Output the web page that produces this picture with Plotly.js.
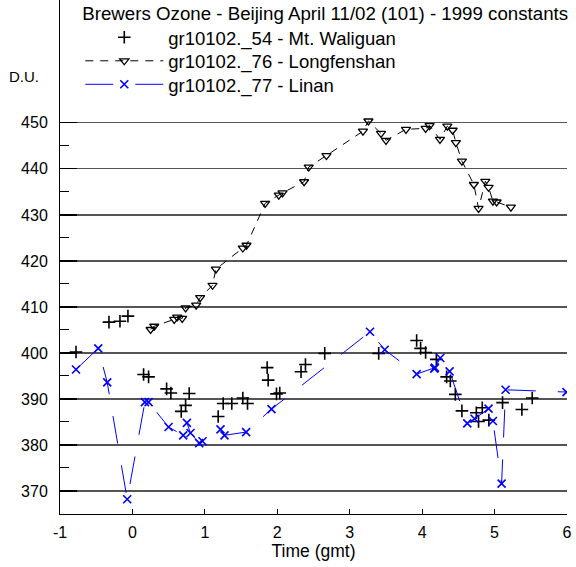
<!DOCTYPE html>
<html>
<head>
<meta charset="utf-8">
<script src="https://cdn.plot.ly/plotly-3.0.1.min.js"></script>
<style>html,body{margin:0;padding:0;background:#fff;}#chart{width:576px;height:567px;}</style>
</head>
<body>
<div id="chart"></div>
<script>
// Mt. Waliguan (gr10102._54)
const waliguanTime = [-0.779,-0.324,-0.172,-0.062,0.154,0.223,0.472,0.531,0.674,0.734,0.784,1.184,1.253,1.372,1.524,1.589,1.860,1.874,1.989,2.034,2.328,2.389,2.655,3.400,3.924,3.979,4.048,4.196,4.338,4.389,4.458,4.549,4.748,4.779,4.830,4.921,5.110,5.377,5.520];
const waliguanDU   = [400.2,406.7,406.9,408.0,395.3,394.8,392.2,391.3,387.3,388.6,391.2,386.2,389.0,389.0,390.2,389.0,396.8,394.1,391.1,391.3,395.9,397.5,399.9,399.9,402.7,401.0,400.1,398.6,394.8,393.9,391.0,387.4,387.0,385.1,388.1,385.4,389.2,387.7,390.2];

// Longfenshan (gr10102._76)
const longfenTime = [0.251,0.301,0.577,0.618,0.687,0.734,0.880,0.935,1.106,1.152,1.524,1.575,1.832,2.021,2.072,2.370,2.434,2.679,3.183,3.258,3.432,3.501,3.777,4.048,4.103,4.246,4.348,4.421,4.466,4.549,4.714,4.779,4.872,4.917,4.977,5.028,5.225];
const longfenDU   = [405.1,405.8,407.3,407.8,407.5,409.8,410.4,412.0,414.7,418.2,422.8,423.4,432.5,434.3,434.8,437.2,440.4,442.9,448.2,450.4,447.7,446.2,448.6,448.8,449.4,446.4,449.3,448.4,445.7,441.7,436.6,431.4,437.3,436.0,433.0,432.8,431.7];

// Linan (gr10102._77)
const linanTime = [-0.779,-0.472,-0.348,-0.072,0.172,0.223,0.499,0.701,0.752,0.802,0.922,0.968,1.216,1.271,1.570,1.920,3.280,3.483,3.924,4.168,4.177,4.251,4.379,4.623,4.724,4.917,4.977,5.097,5.152,5.993];
const linanDU   = [396.4,401.0,393.6,368.2,389.3,389.3,383.9,382.1,384.8,382.6,380.4,380.8,383.4,382.1,382.8,387.8,404.6,400.7,395.4,396.6,396.8,398.9,396.0,384.7,385.7,387.9,385.2,371.6,392.0,391.5];

const yTickVals = [370,380,390,400,410,420,430,440,450];
const yMinorVals = [375,385,395,405,415,425,435,445];
const xTickVals = [-1,0,1,2,3,4,5,6];

const FONT = "Liberation Sans, Arial, sans-serif";

const traces = [
  {x: waliguanTime, y: waliguanDU, mode: 'markers', name: 'gr10102._54 - Mt. Waliguan',
   marker: {symbol: 'cross-thin-open', size: 9, color: '#000', line: {color: '#000', width: 1.6}}},
  {x: longfenTime, y: longfenDU, mode: 'lines+markers', name: 'gr10102._76 - Longfenshan',
   line: {color: '#000', width: 1, dash: '8px,7px'},
   marker: {symbol: 'triangle-down-open', size: 8, color: '#000', line: {color: '#000', width: 1.3}}},
  {x: linanTime, y: linanDU, mode: 'lines+markers', name: 'gr10102._77 - Linan',
   line: {color: '#0000ff', width: 1, dash: '28px,22px'},
   marker: {symbol: 'x-thin-open', size: 8, color: '#0000ff', line: {color: '#0000ff', width: 1.6}}}
];

const layout = {
  width: 576, height: 567,
  margin: {l: 60, r: 8.5, t: 0, b: 53},
  paper_bgcolor: '#fff', plot_bgcolor: '#fff',
  font: {family: FONT, size: 16, color: '#000'},
  showlegend: true,
  legend: {
    x: 0.04, y: 1, xanchor: 'left', yanchor: 'top',
    bgcolor: 'rgba(0,0,0,0)', borderwidth: 0,
    font: {family: FONT, size: 18.5, color: '#000'},
    title: {text: 'Brewers Ozone - Beijing April 11/02 (101) - 1999 constants', side: 'top',
            font: {family: FONT, size: 18.7, color: '#000'}},
    itemwidth: 78,
    tracegroupgap: 0
  },
  xaxis: {
    range: [-1, 6], tickmode: 'array', tickvals: xTickVals, ticktext: xTickVals.map(String),
    showgrid: false, zeroline: false, showline: true, linecolor: '#000', linewidth: 1,
    ticks: 'inside', ticklen: 5, tickcolor: '#000', tickwidth: 1,
    ticklabelstandoff: 4,
    tickfont: {family: FONT, size: 16, color: '#000'},
    title: {text: 'Time (gmt)', font: {family: FONT, size: 17.5, color: '#000'}, standoff: 0}
  },
  yaxis: {
    range: [365, 476.7], tickmode: 'array', tickvals: yTickVals, ticktext: yTickVals.map(String),
    showgrid: true, gridcolor: '#555', gridwidth: 1.2, zeroline: false,
    showline: true, linecolor: '#000', linewidth: 1,
    ticks: 'inside', ticklen: 17, tickcolor: '#000', tickwidth: 1.2,
    ticklabelstandoff: 8,
    tickfont: {family: FONT, size: 16, color: '#000'},
    minor: {tickmode: 'array', tickvals: yMinorVals, ticks: 'inside', ticklen: 9, tickcolor: '#000', tickwidth: 1, showgrid: false}
  },
  annotations: [
    {text: 'D.U.', xref: 'paper', yref: 'paper', x: -0.071, y: 0.851, xanchor: 'center', yanchor: 'middle',
     showarrow: false, font: {family: FONT, size: 15, color: '#000'}}
  ]
};

function parseT(el) {
  const tr = el.getAttribute('transform') || '';
  const m = tr.match(/translate\(\s*([-\d.eE]+)[ ,]+([-\d.eE]+)\s*\)/);
  return m ? [parseFloat(m[1]), parseFloat(m[2])] : [0, 0];
}
function centerY(el) {
  const r = el.getBoundingClientRect();
  return r.top + r.height / 2;
}

Plotly.newPlot('chart', traces, layout, {displayModeBar: false, staticPlot: true}).then(function (gd) {
  // Position legend rows as in the reference (title ~13px, rows ~23.5px apart)
  const legend = gd.querySelector('.legend');
  if (legend) legend.removeAttribute('clip-path');
  gd.querySelectorAll('.legend [clip-path]').forEach(function (e) { e.removeAttribute('clip-path'); });
  const title = gd.querySelector('.legend .legendtitletext');
  if (legend && title) {
    const t = parseT(legend);
    const dy = 13.5 - centerY(title);
    legend.setAttribute('transform', 'translate(' + t[0] + ',' + (t[1] + dy) + ')');
  }
  const targets = [38.5, 62, 85.5];
  gd.querySelectorAll('.legend .traces').forEach(function (el, i) {
    const txt = el.querySelector('.legendtext');
    if (!txt) return;
    const t = parseT(el);
    const dy = targets[i] - centerY(txt);
    el.setAttribute('transform', 'translate(' + t[0] + ',' + (t[1] + dy) + ')');
  });
});
</script>
</body>
</html>
